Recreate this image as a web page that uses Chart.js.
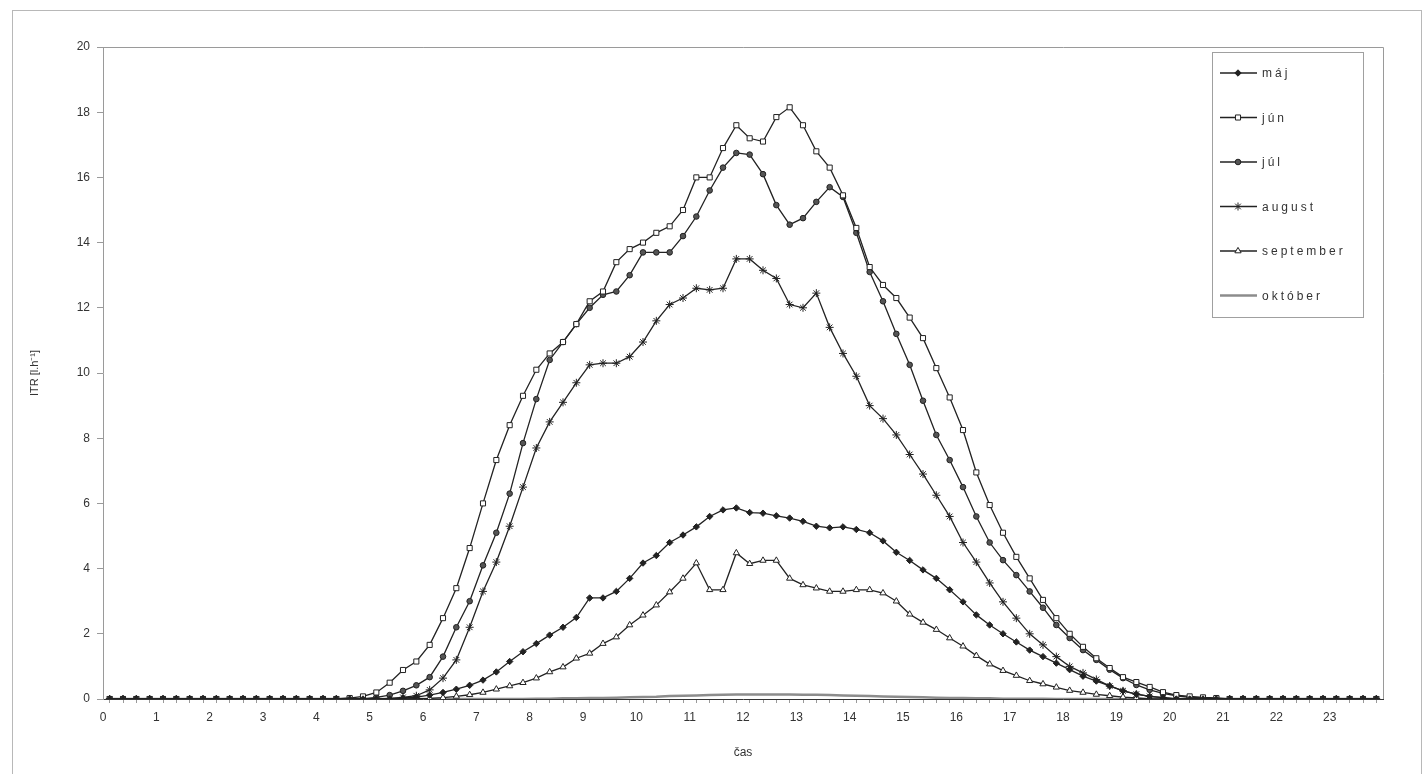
<!DOCTYPE html>
<html>
<head>
<meta charset="utf-8">
<script src="https://cdn.jsdelivr.net/npm/chart.js@4.4.1/dist/chart.umd.min.js"></script>
<style>
  body { margin: 0; background: #fff; }
  #frame { position: absolute; left: 12px; top: 10px; width: 1408px; height: 800px; border: 1px solid #b8b8b8; }
  #itr { position: absolute; left: 0; top: 0; }
</style>
</head>
<body>
<div id="frame"></div>
<canvas id="itr" width="1425" height="774"></canvas>
<script>
// hours on the axis, data every 15 minutes
const hourTicks = ['0','1','2','3','4','5','6','7','8','9','10','11','12','13','14','15','16','17','18','19','20','21','22','23'];
const quarters = ['00', '15', '30', '45'];
const times = hourTicks.flatMap(h => quarters.map(q => h + ':' + q));

// ITR [l/h], 96 values per month
const maj = [
  0,0,0,0,0,0,0,0,0,0,0,0,
  0,0,0,0,0,0,0,0,0,0,0.03,0.06,
  0.12,0.2,0.3,0.42,0.58,0.83,1.15,1.45,1.7,1.96,2.2,2.5,
  3.1,3.1,3.3,3.7,4.17,4.4,4.8,5.03,5.28,5.6,5.8,5.86,
  5.72,5.7,5.62,5.55,5.45,5.3,5.25,5.28,5.2,5.1,4.85,4.5,
  4.25,3.96,3.7,3.35,2.98,2.58,2.27,2.0,1.75,1.5,1.3,1.1,
  0.9,0.7,0.55,0.4,0.25,0.15,0.08,0.04,0,0,0,0,
  0,0,0,0,0,0,0,0,0,0,0,0
];
const jun = [
  0,0,0,0,0,0,0,0,0,0,0,0,
  0,0,0,0,0,0,0.03,0.08,0.2,0.5,0.89,1.15,
  1.66,2.48,3.4,4.63,6.0,7.33,8.4,9.3,10.1,10.6,10.95,11.5,
  12.2,12.5,13.4,13.8,14.0,14.3,14.5,15.0,16.0,16.0,16.9,17.6,
  17.2,17.1,17.85,18.15,17.6,16.8,16.3,15.45,14.45,13.25,12.7,12.3,
  11.7,11.07,10.15,9.25,8.25,6.95,5.95,5.1,4.36,3.7,3.04,2.48,
  2.0,1.6,1.25,0.95,0.67,0.52,0.37,0.21,0.12,0.08,0.05,0.03,
  0,0,0,0,0,0,0,0,0,0,0,0
];
const jul = [
  0,0,0,0,0,0,0,0,0,0,0,0,
  0,0,0,0,0,0,0,0,0.05,0.12,0.25,0.42,
  0.67,1.3,2.2,3.0,4.1,5.1,6.3,7.85,9.2,10.4,10.95,11.5,
  12.0,12.4,12.5,13.0,13.7,13.7,13.7,14.2,14.8,15.6,16.3,16.75,
  16.7,16.1,15.15,14.55,14.75,15.25,15.7,15.4,14.3,13.1,12.2,11.2,
  10.25,9.15,8.1,7.33,6.5,5.6,4.8,4.26,3.8,3.3,2.8,2.27,
  1.87,1.5,1.2,0.9,0.64,0.43,0.28,0.17,0.1,0.05,0.03,0,
  0,0,0,0,0,0,0,0,0,0,0,0
];
const august = [
  0,0,0,0,0,0,0,0,0,0,0,0,
  0,0,0,0,0,0,0,0,0,0.02,0.05,0.1,
  0.28,0.64,1.2,2.2,3.3,4.2,5.3,6.5,7.7,8.5,9.1,9.7,
  10.25,10.3,10.3,10.5,10.95,11.6,12.1,12.3,12.6,12.55,12.6,13.5,
  13.5,13.15,12.9,12.1,12.0,12.45,11.4,10.6,9.9,9.0,8.6,8.1,
  7.5,6.9,6.25,5.6,4.8,4.2,3.56,2.98,2.48,2.0,1.66,1.3,
  1.0,0.8,0.6,0.4,0.25,0.15,0.08,0.04,0,0,0,0,
  0,0,0,0,0,0,0,0,0,0,0,0
];
const september = [
  0,0,0,0,0,0,0,0,0,0,0,0,
  0,0,0,0,0,0,0,0,0,0,0,0.01,
  0.02,0.04,0.08,0.13,0.2,0.3,0.4,0.5,0.64,0.83,0.98,1.25,
  1.4,1.7,1.9,2.27,2.57,2.88,3.28,3.7,4.17,3.35,3.35,4.48,
  4.15,4.25,4.25,3.7,3.5,3.4,3.3,3.3,3.35,3.35,3.25,3.0,
  2.6,2.35,2.13,1.87,1.62,1.33,1.07,0.87,0.72,0.56,0.46,0.36,
  0.26,0.2,0.14,0.1,0.06,0.03,0,0,0,0,0,0,
  0,0,0,0,0,0,0,0,0,0,0,0
];
const oktober = [
  0,0,0,0,0,0,0,0,0,0,0,0,
  0,0,0,0,0,0,0,0,0,0,0,0,
  0,0,0,0,0,0,0,0,0.01,0.01,0.02,0.02,
  0.03,0.03,0.04,0.05,0.06,0.07,0.09,0.1,0.11,0.12,0.13,0.14,
  0.14,0.14,0.14,0.14,0.13,0.13,0.12,0.11,0.1,0.09,0.08,0.07,
  0.06,0.05,0.04,0.03,0.03,0.02,0.02,0.01,0.01,0.01,0.01,0,
  0,0,0,0,0,0,0,0,0,0,0,0,
  0,0,0,0,0,0,0,0,0,0,0,0
];

Chart.defaults.font.family = '"Liberation Sans", Arial, sans-serif';
Chart.defaults.color = '#333';

const ink = '#222';

function series(label, data, style, radius, fill) {
  return {
    label: label,
    data: data,
    borderColor: ink,
    borderWidth: 1.3,
    pointStyle: style,
    pointRadius: radius,
    pointBackgroundColor: fill,
    pointBorderColor: ink,
    pointBorderWidth: 1,
    tension: 0
  };
}

// plot area border (top + right), like the Excel frame
const plotFrame = {
  id: 'plotFrame',
  beforeDatasetsDraw(chart) {
    const { ctx, chartArea: a } = chart;
    ctx.save();
    ctx.strokeStyle = '#9a9a9a';
    ctx.lineWidth = 1;
    ctx.beginPath();
    ctx.moveTo(a.left, a.top + 0.5);
    ctx.lineTo(a.right + 0.5, a.top + 0.5);
    ctx.lineTo(a.right + 0.5, a.bottom);
    ctx.stroke();
    ctx.restore();
  }
};

// boxed legend inside the plot, top right
const boxLegend = {
  id: 'boxLegend',
  afterDraw(chart) {
    const ctx = chart.ctx;
    const x = 1212, y = 52, w = 151, h = 265, row = 44.5;
    ctx.save();
    ctx.fillStyle = '#fff';
    ctx.fillRect(x, y, w, h);
    ctx.strokeStyle = '#a0a0a0';
    ctx.lineWidth = 1;
    ctx.strokeRect(x + 0.5, y + 0.5, w, h);
    ctx.font = '12px "Liberation Sans", Arial, sans-serif';
    ctx.textBaseline = 'middle';
    if ('letterSpacing' in ctx) ctx.letterSpacing = '3px';
    chart.data.datasets.forEach((ds, i) => {
      const cy = y + 21 + i * row;
      ctx.strokeStyle = ds.borderColor;
      ctx.lineWidth = ds.borderWidth;
      ctx.beginPath();
      ctx.moveTo(x + 8, cy);
      ctx.lineTo(x + 45, cy);
      ctx.stroke();
      if (ds.pointRadius > 0) {
        ctx.fillStyle = ds.pointBackgroundColor;
        ctx.strokeStyle = ds.pointBorderColor;
        ctx.lineWidth = ds.pointBorderWidth;
        Chart.helpers.drawPoint(ctx, { pointStyle: ds.pointStyle, radius: ds.pointRadius, rotation: 0, borderWidth: 1 }, x + 26, cy);
      }
      ctx.fillStyle = '#333';
      ctx.fillText(ds.label, x + 50, cy + 1);
    });
    ctx.restore();
  }
};

const ctx = document.getElementById('itr').getContext('2d');

new Chart(ctx, {
  type: 'line',
  data: {
    labels: times,
    datasets: [
      series('máj', maj, 'rectRot', 3.2, ink),
      series('jún', jun, 'rect', 3.6, '#fff'),
      series('júl', jul, 'circle', 2.8, '#555'),
      series('august', august, 'star', 4, ink),
      series('september', september, 'triangle', 3.6, '#fff'),
      {
        label: 'október',
        data: oktober,
        borderColor: '#8c8c8c',
        borderWidth: 2.5,
        pointRadius: 0,
        tension: 0
      }
    ]
  },
  options: {
    responsive: false,
    animation: false,
    events: [],
    layout: { padding: { top: 47, right: 42, left: 0, bottom: 0 } },
    plugins: {
      legend: { display: false },
      tooltip: { enabled: false }
    },
    scales: {
      x: {
        type: 'category',
        offset: true,
        grid: { drawOnChartArea: false, tickLength: 4, color: '#9a9a9a' },
        border: { color: '#333', width: 1 },
        ticks: {
          autoSkip: false,
          maxRotation: 0,
          labelOffset: -6.67,
          padding: 7,
          font: { size: 12 },
          callback: (v, i) => (i % 4 === 0 ? hourTicks[i / 4] : '')
        },
        title: { display: true, text: 'čas', font: { size: 12 }, padding: { top: 0, bottom: 14 } },
        afterFit: s => { s.height = 75; }
      },
      y: {
        min: 0,
        max: 20,
        grid: { drawOnChartArea: false, tickLength: 6, color: '#9a9a9a' },
        border: { color: '#9a9a9a', width: 1 },
        ticks: { stepSize: 2, padding: 7, font: { size: 12 } },
        title: { display: true, text: 'ITR [l.h⁻¹]', font: { size: 11 }, padding: { top: 28 } },
        afterFit: s => { s.width = 103; }
      }
    }
  },
  plugins: [plotFrame, boxLegend]
});
</script>
</body>
</html>
